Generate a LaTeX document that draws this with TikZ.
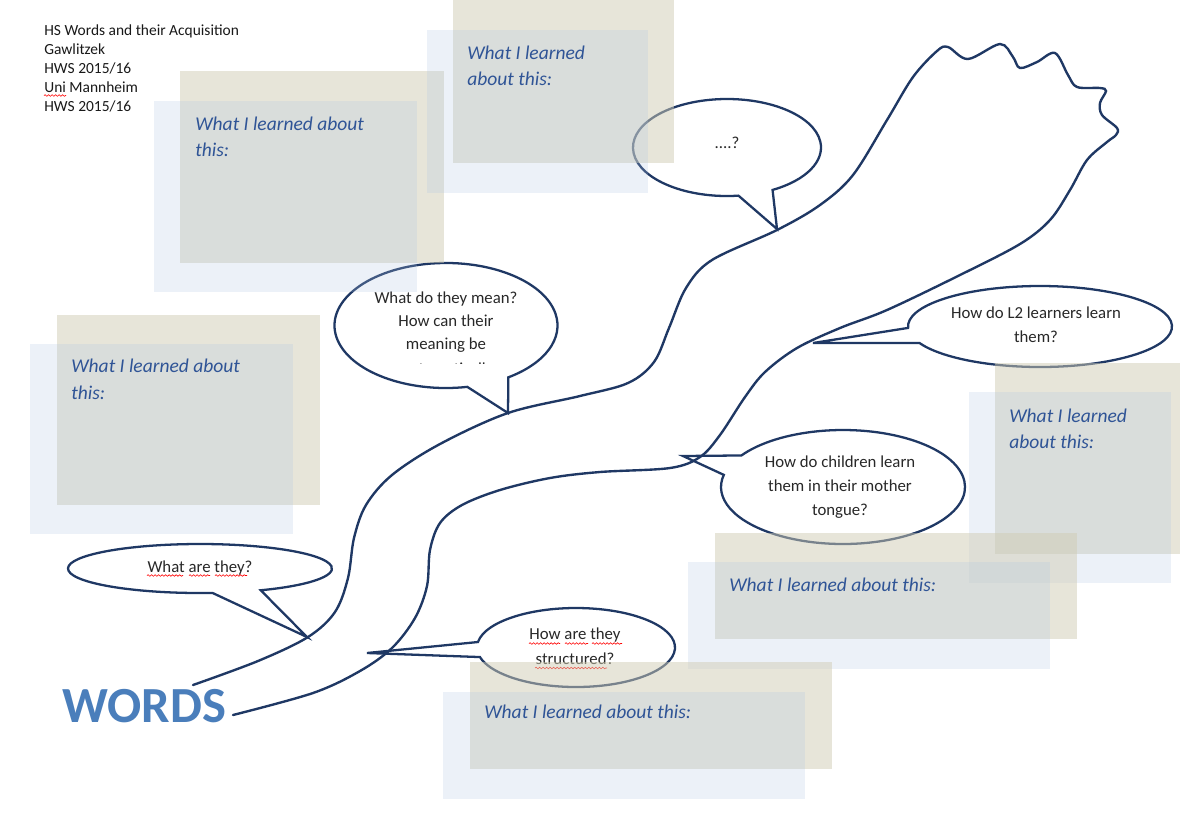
\documentclass[tikz,border=0pt]{standalone}
\usepackage{fontspec}
\setmainfont{Carlito}
\usetikzlibrary{calc,decorations.pathmorphing}
\definecolor{navy}{RGB}{31,56,100}
\definecolor{beigec}{RGB}{209,205,181}
\definecolor{bluec}{RGB}{176,197,226}
\definecolor{boxblue}{RGB}{47,84,150}
\definecolor{wordsblue}{RGB}{74,126,187}
\definecolor{bubgray}{RGB}{40,40,40}
\definecolor{hdrgray}{RGB}{25,25,25}
\begin{document}
\begin{tikzpicture}[x=0.02cm,y=-0.02cm,
  bubble/.style={draw=navy, line width=1.3pt, fill=white, line join=miter},
  treeline/.style={draw=navy, line width=1.35pt, line cap=round},
  beigebox/.style={fill=beigec, fill opacity=0.5},
  bluebox/.style={fill=bluec, fill opacity=0.24},
  boxtext/.style={font=\fontsize{11.1}{15}\selectfont\itshape, text=boxblue, anchor=base west, inner sep=0pt},
  bubtext/.style={font=\fontsize{9.55}{13}\selectfont, text=bubgray, anchor=base, inner sep=0pt},
  hdr/.style={font=\fontsize{8.8}{10.8}\selectfont, text=hdrgray, anchor=base west, inner sep=0pt},
  squig/.style={draw=red, line width=0.35pt, decorate, decoration={snake, amplitude=0.45pt, segment length=2pt}}]
\useasboundingbox (0,0) rectangle (1180,833);
\fill[white] (0,0) rectangle (1180,833);

% header
\node[hdr] (h1) at (44,35) {HS Words and their Acquisition};
\node[hdr] (h2) at (44,54) {Gawlitzek};
\node[hdr] (h3) at (44,73) {HWS 2015/16};
\node[hdr] (h4) at (44,92) {Uni Mannheim};
\node[hdr] (h5) at (44,111) {HWS 2015/16};
\draw[squig] (44,95.5) -- (66,95.5);

% bubble centres and tips
\coordinate (c1) at (727,147.5);  \coordinate (p1) at (777,229);
\coordinate (c2) at (446,325.5);  \coordinate (p2) at (508,413);
\coordinate (c3) at (1040,326.5); \coordinate (p3) at (813,343);
\coordinate (c4) at (843,487);    \coordinate (p4) at (683,456);
\coordinate (c5) at (200,568.5);  \coordinate (p5) at (307,637);
\coordinate (c6) at (576,647.5);  \coordinate (p6) at (367,653);

\draw[bubble] (p1) -- ($(c1)+(83:94 and 48.5)$) arc[start angle=83, end angle=421, x radius=94, y radius=48.5] -- cycle;
\draw[bubble] (p2) -- ($(c2)+(79:111.5 and 62.5)$) arc[start angle=79, end angle=416, x radius=111.5, y radius=62.5] -- cycle;
\draw[bubble] (p3) -- ($(c3)+(178:132 and 40.5)$) arc[start angle=178, end angle=516, x radius=132, y radius=40.5] -- cycle;
\draw[bubble] (p4) -- ($(c4)+(213.6:122 and 57)$) arc[start angle=213.6, end angle=552.3, x radius=122, y radius=57] -- cycle;
\draw[bubble] (p5) -- ($(c5)+(84.6:132 and 24.5)$) arc[start angle=84.6, end angle=422.6, x radius=132, y radius=24.5] -- cycle;
\draw[bubble] (p6) -- ($(c6)+(188:99 and 39.5)$) arc[start angle=188, end angle=526, x radius=99, y radius=39.5] -- cycle;

% bubble texts
\node[bubtext] (q1) at (727,148) {....?};
\node[bubtext] (q2a) at (446,303) {What do they mean?};
\node[bubtext] (q2b) at (446,326) {How can their};
\node[bubtext] (q2c) at (446,349) {meaning be};
\begin{scope}
  \clip (340,355) rectangle (555,363.5);
  \node[bubtext] (q2d) at (446,374) {systematically};
\end{scope}
\node[bubtext] (q3a) at (1036,318) {How do L2 learners learn};
\node[bubtext] (q3b) at (1036,342) {them?};
\node[bubtext] (q4a) at (840,467) {How do children learn};
\node[bubtext] (q4b) at (840,491) {them in their mother};
\node[bubtext] (q4c) at (840,515) {tongue?};
\node[bubtext] (q5) at (200,572) {What are they?};
\node[bubtext] (q6a) at (575,639) {How are they};
\node[bubtext] (q6b) at (575,664) {structured?};
\draw[squig] (147,575.5) -- (183,575.5);
\draw[squig] (189,575.5) -- (210,575.5);
\draw[squig] (215,575.5) -- (247,575.5);
\draw[squig] (529,643.5) -- (560,643.5);
\draw[squig] (565,643.5) -- (588,643.5);
\draw[squig] (592,643.5) -- (622,643.5);
\draw[squig] (535,668) -- (607,668);

% tree
\draw[treeline] plot[smooth, tension=0.55] coordinates {
 (193,685) (258,661) (308,637) (335,612) (348,578) (354,538) (366,505) (392,475)
 (440,444) (508,413) (580,396) (628,383) (654,362) (669,328) (686,288) (712,260)
 (777,230) (820,205) (853,175) (887,120)
 (913,77) (937,51) (948,47) (968,59) (1000,44) (1013,57) (1020,68) (1037,62)
 (1055,53) (1068,75) (1077,87) (1100,88) (1106,91) (1100,103) (1102,115) (1117,128)
 (1116,135) (1107,142) (1087,160) (1070,190) (1050,220) (1020,244) (960,275)
 (887,310) (840,328) (797,348) (765,372) (745,397) (720,435) (700,457) (670,468)
 (600,472) (550,478) (500,490) (462,505) (440,523) (430,550) (427,586) (415,618)
 (392,648) (360,671) (313,693) (233,715)};

% WORDS
\node[font=\fontsize{28.8}{30}\selectfont\bfseries, text=wordsblue, anchor=base west, inner sep=0pt] (words) at (62,722) {WORDS};

% learning boxes
\fill[beigebox] (180,71) rectangle (444,263);
\fill[bluebox] (154,101) rectangle (417,292);
\fill[beigebox] (453,0) rectangle (674,163);
\fill[bluebox] (427,30) rectangle (648,193);
\fill[beigebox] (57,315) rectangle (320,505);
\fill[bluebox] (30,344) rectangle (293,534);
\fill[beigebox] (995,363) rectangle (1180,554);
\fill[bluebox] (969,392) rectangle (1171,583);
\fill[beigebox] (715,533) rectangle (1077,639);
\fill[bluebox] (688,562) rectangle (1050,669);
\fill[beigebox] (470,662) rectangle (832,769);
\fill[bluebox] (443,692) rectangle (805,799);

\node[boxtext] (ta1) at (195,130) {What I learned about};
\node[boxtext] (ta2) at (195,156) {this:};
\node[boxtext] (tb1) at (467,59) {What I learned};
\node[boxtext] (tb2) at (467,85) {about this:};
\node[boxtext] (tc1) at (71,372) {What I learned about};
\node[boxtext] (tc2) at (71,399) {this:};
\node[boxtext] (td1) at (1009,422) {What I learned};
\node[boxtext] (td2) at (1009,448) {about this:};
\node[boxtext] (te1) at (729,591) {What I learned about this:};
\node[boxtext] (tf1) at (484,718) {What I learned about this:};
\end{tikzpicture}
\end{document}
